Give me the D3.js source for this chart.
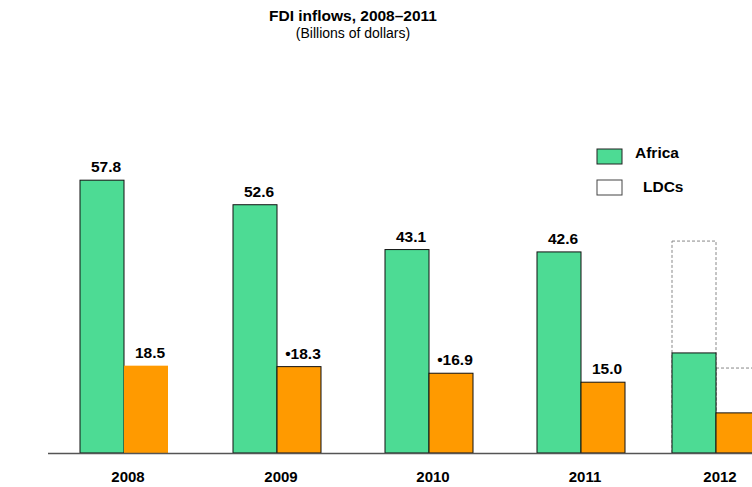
<!DOCTYPE html>
<meta charset="utf-8">
<script src="https://d3js.org/d3.v7.min.js"></script>
<style>
  body { margin: 0; background: #fff; }
  text { font-family: "Liberation Sans", Arial, sans-serif; }
</style>
<div id="chart"></div>
<script>
// data
var years = ["2008", "2009", "2010", "2011", "2012"];
var africa = [57.8, 52.6, 43.1, 42.6, 21.2];
var ldcs = [18.5, 18.3, 16.9, 15.0, 8.5];
var africaLabels = ["57.8", "52.6", "43.1", "42.6", ""];
var ldcLabels = ["18.5", "\u202218.3", "\u202216.9", "15.0", ""];
// dashed outlines drawn on the 2012 group
var outlineAfrica = [null, null, null, null, 44.9];
var outlineLdcs = [null, null, null, null, 18.0];

var width = 752, height = 487;
var baseY = 453, barW = 44;

var svg = d3.select("#chart").append("svg")
    .attr("width", width)
    .attr("height", height);

// groups are not evenly spaced in the original (2012 is squeezed in)
var x = d3.scaleOrdinal()
    .domain(years)
    .range([80, 233, 385, 537, 672]);

var y = d3.scaleLinear()
    .domain([0, 60])
    .range([baseY, baseY - 60 * 4.72]);

var green = "#4ddb94", orange = "#ff9a00";

var rows = years.map(function(yr, i) {
  return { year: yr, africa: africa[i], ldcs: ldcs[i],
           aLab: africaLabels[i], lLab: ldcLabels[i],
           oA: outlineAfrica[i], oL: outlineLdcs[i], i: i };
});

// dashed outlines (behind bars)
svg.selectAll(".outA").data(rows.filter(function(d) { return d.oA != null; }))
  .enter().append("rect")
    .attr("x", function(d) { return x(d.year); })
    .attr("y", function(d) { return y(d.oA); })
    .attr("width", barW)
    .attr("height", function(d) { return baseY - y(d.oA); })
    .attr("fill", "none")
    .attr("stroke", "#888")
    .attr("stroke-dasharray", "3,2");

svg.selectAll(".outL").data(rows.filter(function(d) { return d.oL != null; }))
  .enter().append("rect")
    .attr("x", function(d) { return x(d.year) + barW; })
    .attr("y", function(d) { return y(d.oL); })
    .attr("width", barW)
    .attr("height", function(d) { return baseY - y(d.oL); })
    .attr("fill", "none")
    .attr("stroke", "#888")
    .attr("stroke-dasharray", "3,2");

// Africa bars
svg.selectAll(".barA").data(rows)
  .enter().append("rect")
    .attr("x", function(d) { return x(d.year); })
    .attr("y", function(d) { return y(d.africa); })
    .attr("width", barW)
    .attr("height", function(d) { return baseY - y(d.africa); })
    .attr("fill", green)
    .attr("stroke", "#111")
    .attr("stroke-width", 1);

// LDC bars (first one has no outline in the original)
svg.selectAll(".barL").data(rows)
  .enter().append("rect")
    .attr("x", function(d) { return x(d.year) + barW; })
    .attr("y", function(d) { return y(d.ldcs); })
    .attr("width", barW)
    .attr("height", function(d) { return baseY - y(d.ldcs); })
    .attr("fill", orange)
    .attr("stroke", function(d) { return d.i == 0 ? "none" : "#111"; })
    .attr("stroke-width", 1);

// value labels
svg.selectAll(".labA").data(rows)
  .enter().append("text")
    .attr("x", function(d) { return x(d.year) + barW / 2 + 4; })
    .attr("y", function(d) { return y(d.africa) - 8; })
    .attr("text-anchor", "middle")
    .style("font-size", "15.5px")
    .style("font-weight", "bold")
    .text(function(d) { return d.aLab; });

svg.selectAll(".labL").data(rows)
  .enter().append("text")
    .attr("x", function(d) { return x(d.year) + barW * 1.5 + 4; })
    .attr("y", function(d) { return y(d.ldcs) - 8; })
    .attr("text-anchor", "middle")
    .style("font-size", "15.5px")
    .style("font-weight", "bold")
    .text(function(d) { return d.lLab; });

// baseline
svg.append("line")
    .attr("x1", 48).attr("x2", width)
    .attr("y1", baseY + 0.5).attr("y2", baseY + 0.5)
    .attr("stroke", "#555")
    .attr("stroke-width", 1.5);

// year labels
svg.selectAll(".yr").data(rows)
  .enter().append("text")
    .attr("x", function(d) { return x(d.year) + barW + 4; })
    .attr("y", 482)
    .attr("text-anchor", "middle")
    .style("font-size", "15px")
    .style("font-weight", "bold")
    .text(function(d) { return d.year; });

// title
svg.append("text")
    .attr("x", 353).attr("y", 21)
    .attr("text-anchor", "middle")
    .style("font-size", "15.5px")
    .style("font-weight", "bold")
    .text("FDI inflows, 2008\u20132011");

svg.append("text")
    .attr("x", 353).attr("y", 38)
    .attr("text-anchor", "middle")
    .style("font-size", "14px")
    .text("(Billions of dollars)");

// legend
var legend = [
  { name: "Africa", fill: green, stroke: "#222", tx: 635, ty: 158 },
  { name: "LDCs", fill: "#fff", stroke: "#444", tx: 643, ty: 161 }
];
var lg = svg.selectAll(".lg").data(legend).enter().append("g")
    .attr("transform", function(d, i) { return "translate(0," + (i * 31) + ")"; });
lg.append("rect")
    .attr("x", 597).attr("y", 149)
    .attr("width", 25).attr("height", 15)
    .attr("fill", function(d) { return d.fill; })
    .attr("stroke", function(d) { return d.stroke; });
lg.append("text")
    .attr("x", function(d) { return d.tx; })
    .attr("y", function(d) { return d.ty; })
    .style("font-size", "15.5px")
    .style("font-weight", "bold")
    .text(function(d) { return d.name; });
</script>
